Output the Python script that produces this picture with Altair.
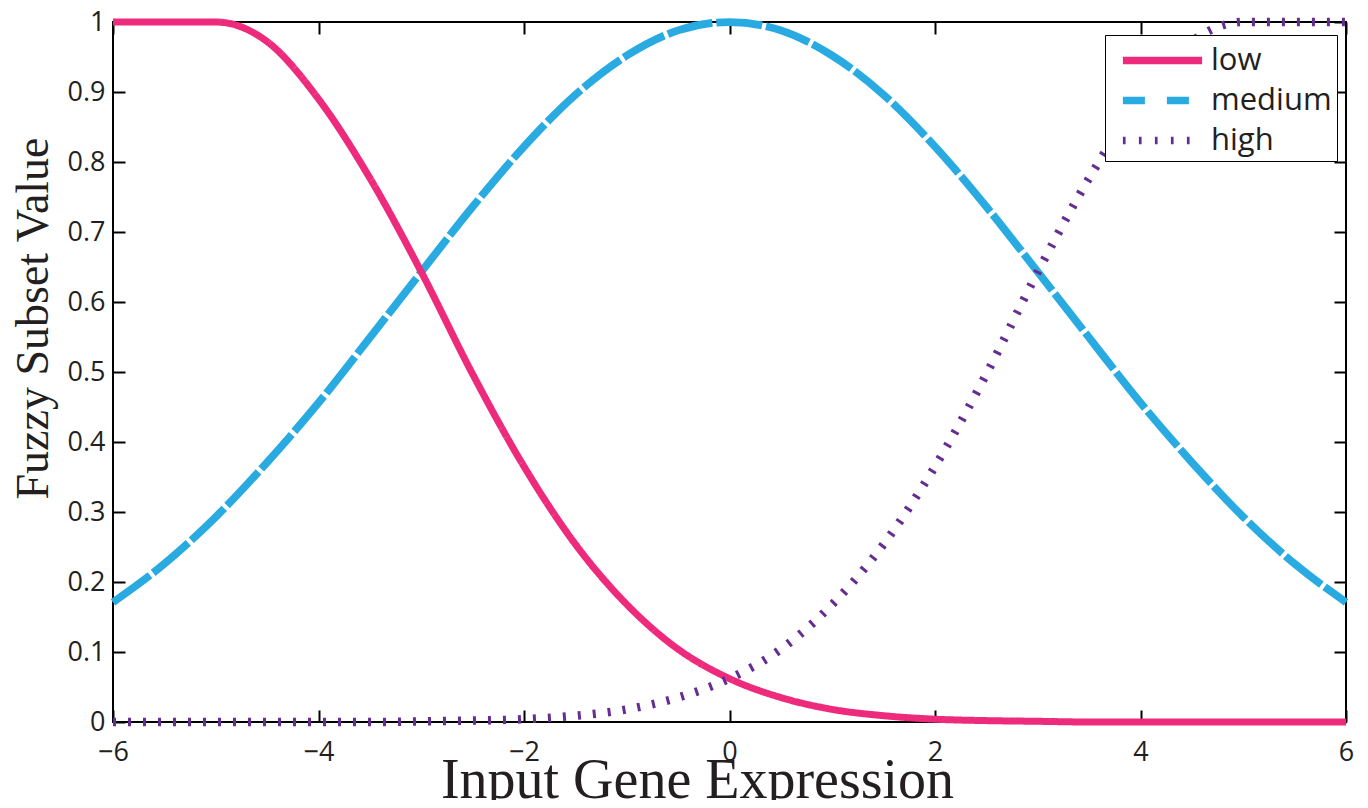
import altair as alt
import pandas as pd

# ---- data ----
x_vals = [-6, -5.5, -5, -4.5, -4, -3.5, -3, -2.5, -2, -1.5, -1, -0.5, 0,
          0.5, 1, 1.5, 2, 2.5, 3, 3.5, 4, 4.5, 5, 5.5, 6]
low_vals = [1.0, 1.0, 1.0, 0.972, 0.89, 0.777, 0.643, 0.497, 0.365, 0.254, 0.168, 0.104, 0.062,
            0.035, 0.018, 0.009, 0.004, 0.002, 0.001, 0.0, 0.0, 0.0, 0.0, 0.0, 0.0]
medium_vals = [0.171, 0.226, 0.293, 0.371, 0.456, 0.549, 0.643, 0.736, 0.822, 0.896, 0.952, 0.988, 1.0,
               0.988, 0.952, 0.896, 0.822, 0.736, 0.643, 0.549, 0.456, 0.371, 0.293, 0.226, 0.171]
high_vals = [0.0, 0.0, 0.0, 0.0, 0.0, 0.0, 0.001, 0.002, 0.004, 0.009, 0.018, 0.035, 0.062,
             0.104, 0.168, 0.254, 0.365, 0.497, 0.643, 0.777, 0.89, 0.972, 1.0, 1.0, 1.0]

series_names = ["low", "medium", "high"]
series_colors = ["#ED2A7B", "#29ABE2", "#662D91"]
x_ticks = [-6, -4, -2, 0, 2, 4, 6]
y_ticks = [0, 0.1, 0.2, 0.3, 0.4, 0.5, 0.6, 0.7, 0.8, 0.9, 1]

rows = []
for name, vals in [("medium", medium_vals), ("low", low_vals), ("high", high_vals)]:
    for xv, yv in zip(x_vals, vals):
        rows.append({"x": xv, "v": yv, "series": name})
df = pd.DataFrame(rows)

FONT = "Open Sans"
TXT = "#231f20"

xscale = alt.Scale(domain=[-6, 6], nice=False, zero=False)
yscale = alt.Scale(domain=[0, 1], nice=False, zero=False)

bottom_axis = alt.Axis(
    orient="bottom", values=x_ticks, domain=False, grid=False,
    ticks=True, tickSize=12, tickWidth=2, tickColor="black", offset=-12,
    labelFont=FONT, labelFontSize=27, labelColor=TXT, labelPadding=17,
    labelFlush=False, labelOverlap=False,
    title="Input Gene Expression", titleFont="Liberation Serif", titleFontSize=56,
    titleFontWeight="normal", titleColor=TXT, titleX=584, titleY=87,
    titleAlign="center", titleBaseline="alphabetic", titleAnchor="start",
)
left_axis = alt.Axis(
    orient="left", values=y_ticks, format="~g", domain=False, grid=False,
    ticks=True, tickSize=12, tickWidth=2, tickColor="black", offset=-12,
    labelFont=FONT, labelFontSize=27, labelColor=TXT, labelPadding=8,
    labelFlush=False, labelOverlap=False,
    title="Fuzzy Subset Value", titleFont="Liberation Serif", titleFontSize=46,
    titleFontWeight="normal", titleColor=TXT, titleX=-92, titleY=296,
    titleAlign="center", titleBaseline="middle", titleAngle=270, titleAnchor="start",
)
top_axis = alt.Axis(
    orient="top", values=x_ticks, domain=False, grid=False, labels=False,
    ticks=True, tickSize=12, tickWidth=2, tickColor="black", offset=-12, title=None,
)
right_axis = alt.Axis(
    orient="right", values=y_ticks, domain=False, grid=False, labels=False,
    ticks=True, tickSize=12, tickWidth=2, tickColor="black", offset=-12, title=None,
)

curves = alt.Chart(df).mark_line(interpolate="monotone", strokeCap="butt").encode(
    x=alt.X("x:Q", scale=xscale, axis=bottom_axis),
    y=alt.Y("v:Q", scale=yscale, axis=left_axis),
    color=alt.Color("series:N", scale=alt.Scale(domain=series_names, range=series_colors), legend=None),
    strokeDash=alt.StrokeDash("series:N", scale=alt.Scale(domain=series_names,
                              range=[[1, 0], [46, 4], [3, 12]]), legend=None),
    strokeWidth=alt.StrokeWidth("series:N", scale=alt.Scale(domain=series_names, range=[7, 8.5, 6]),
                                legend=None),
)

frame_ticks = alt.Chart(df).mark_line(opacity=0).encode(
    x=alt.X("x:Q", scale=xscale, axis=top_axis),
    y=alt.Y("v:Q", scale=yscale, axis=right_axis),
)

legend = alt.Legend(
    orient="none", legendX=992, legendY=13, title=None,
    fillColor="white", strokeColor="black", padding=5, cornerRadius=0,
    symbolType="M-2.4,0L2.4,0", symbolSize=1089, symbolStrokeWidth=7.5,
    symbolOffset=32, labelOffset=28, rowPadding=4,
    labelFont=FONT, labelFontSize=31, labelColor=TXT,
)
legend_layer = alt.Chart(df).transform_filter("false").mark_line(strokeWidth=7.5).encode(
    x=alt.X("x:Q", scale=xscale, axis=None),
    y=alt.Y("v:Q", scale=yscale, axis=None),
    color=alt.Color("series:N", scale=alt.Scale(domain=series_names, range=series_colors), legend=legend),
    strokeDash=alt.StrokeDash("series:N", scale=alt.Scale(domain=series_names,
                              range=[[1, 0], [22, 22], [2.7, 13.3]]), legend=legend),
)

chart = alt.layer(curves, frame_ticks, legend_layer).resolve_axis(
    x="independent", y="independent"
).resolve_scale(
    color="independent", strokeDash="independent", strokeWidth="independent"
).properties(
    width=1233, height=700,
    autosize=alt.AutoSizeParams(type="none"),
    padding={"left": 105, "top": 14, "right": 14, "bottom": 78},
).configure_view(stroke="black", strokeWidth=2)

chart.save("out.html", embed_options={"renderer": "svg", "actions": False})
